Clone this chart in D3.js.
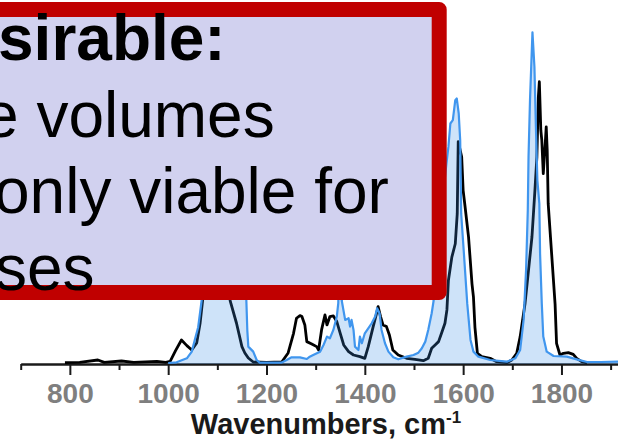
<!DOCTYPE html>
<html>
<head>
<meta charset="utf-8">
<script src="https://cdn.jsdelivr.net/npm/d3@7"></script>
<style>
  html, body { margin: 0; padding: 0; background: #fff; }
  svg { display: block; font-family: "Liberation Sans", Arial, sans-serif; }
</style>
</head>
<body>
<div id="chart"></div>
<script>
// black spectrum (wavenumber, intensity)
const blackWn = [790, 820, 857, 870, 905, 930, 977, 995, 1004, 1015, 1027, 1038, 1048, 1058, 1065, 1070,
  1080, 1090, 1100, 1110, 1120, 1126, 1139, 1150, 1156, 1163, 1173, 1200, 1231, 1244, 1255, 1261, 1268,
  1272, 1278, 1282, 1292, 1302, 1306, 1312, 1319, 1323, 1329, 1336, 1343, 1350, 1357, 1367, 1377, 1390,
  1400, 1407, 1417, 1424, 1427, 1432, 1437, 1444, 1450, 1457, 1468, 1485, 1502, 1519, 1529, 1536, 1543,
  1550, 1556, 1563, 1567, 1570, 1577, 1584, 1588, 1590, 1594, 1597, 1600, 1604, 1611, 1618, 1621, 1624,
  1629, 1638, 1655, 1668, 1689, 1699, 1709, 1716, 1726, 1733, 1740, 1746, 1750, 1753, 1755, 1758, 1760,
  1763, 1767, 1769, 1771, 1773, 1780, 1787, 1790, 1797, 1804, 1814, 1824, 1831, 1841, 1852];
const blackInt = [0.004, 0.005, 0.012, 0.005, 0.009, 0.005, 0.008, 0.005, 0.008, 0.04, 0.072, 0.055, 0.042,
  0.063, 0.123, 0.19, 0.5, 0.7, 0.75, 0.62, 0.35, 0.19, 0.122, 0.052, 0.033, 0.018, 0.006, 0.005, 0.006,
  0.033, 0.092, 0.137, 0.145, 0.142, 0.117, 0.067, 0.06, 0.052, 0.042, 0.102, 0.147, 0.117, 0.142, 0.144,
  0.127, 0.092, 0.057, 0.037, 0.027, 0.022, 0.017, 0.052, 0.112, 0.152, 0.172, 0.142, 0.117, 0.112, 0.087,
  0.042, 0.027, 0.017, 0.014, 0.01, 0.017, 0.047, 0.057, 0.067, 0.092, 0.122, 0.162, 0.25, 0.32, 0.36,
  0.45, 0.666, 0.64, 0.62, 0.52, 0.47, 0.38, 0.24, 0.2, 0.11, 0.032, 0.022, 0.017, 0.007, 0.004, 0.012,
  0.032, 0.082, 0.182, 0.281, 0.381, 0.52, 0.62, 0.8, 0.845, 0.7, 0.67, 0.57, 0.66, 0.71, 0.64, 0.48, 0.33,
  0.18, 0.062, 0.027, 0.032, 0.034, 0.029, 0.017, 0.007, 0.003];

// blue spectrum (filled)
const blueWn = [1000, 1017, 1038, 1048, 1055, 1061, 1068, 1080, 1095, 1110, 1130, 1150, 1159, 1161, 1163,
  1173, 1180, 1186, 1230, 1241, 1251, 1268, 1282, 1288, 1295, 1309, 1316, 1323, 1329, 1336, 1343, 1346,
  1348.5, 1351, 1353, 1360, 1367, 1370, 1373, 1377, 1380, 1387, 1390, 1394, 1400, 1407, 1414, 1421, 1425,
  1430, 1434, 1441, 1448, 1458, 1468, 1485, 1499, 1509, 1516, 1523, 1529, 1536, 1540, 1555, 1566, 1570,
  1574, 1579, 1584, 1587, 1591, 1594, 1596, 1601.6, 1608.4, 1615, 1621, 1631, 1655, 1689, 1706, 1716,
  1723, 1728, 1731.5, 1733, 1736, 1741, 1745, 1748, 1751, 1755, 1756.5, 1760, 1763, 1770, 1784, 1811,
  1831, 1852, 1880, 1915];
const blueInt = [0.003, 0.005, 0.017, 0.037, 0.077, 0.11, 0.19, 0.55, 0.85, 0.92, 0.82, 0.55, 0.19, 0.1,
  0.052, 0.037, 0.012, 0.004, 0.004, 0.012, 0.02, 0.02, 0.015, 0.022, 0.027, 0.037, 0.057, 0.082, 0.077,
  0.102, 0.142, 0.182, 0.4, 0.4, 0.19, 0.132, 0.137, 0.112, 0.132, 0.102, 0.052, 0.042, 0.082, 0.062,
  0.092, 0.107, 0.122, 0.142, 0.167, 0.152, 0.102, 0.062, 0.037, 0.02, 0.014, 0.022, 0.027, 0.034, 0.047,
  0.067, 0.102, 0.152, 0.19, 0.45, 0.6, 0.65, 0.72, 0.73, 0.79, 0.795, 0.75, 0.67, 0.45, 0.33, 0.18, 0.072,
  0.037, 0.022, 0.012, 0.007, 0.017, 0.042, 0.132, 0.281, 0.46, 0.62, 0.79, 0.993, 0.89, 0.71, 0.55, 0.48,
  0.33, 0.18, 0.082, 0.037, 0.024, 0.022, 0.014, 0.006, 0.006, 0.007];

const tickValues = [700, 800, 900, 1000, 1100, 1200, 1300, 1400, 1500, 1600, 1700, 1800, 1900];
const tickLabels = ["", "800", "", "1000", "", "1200", "", "1400", "", "1600", "", "1800", ""];

// text in the callout box (left part is cut off in the original)
const boxLines = ["sirable:", "e volumes", "only viable for", "ses"];

const width = 618, height = 442;
const svg = d3.select("#chart").append("svg")
  .attr("width", width)
  .attr("height", height);

const x = d3.scaleLinear().domain([700, 1915]).range([20.7, 618]);
const y = d3.scaleLinear().domain([0, 1]).range([364, 30]);

const black = blackWn.map((w, i) => ({ w, v: blackInt[i] }));
const blue = blueWn.map((w, i) => ({ w, v: blueInt[i] }));

// axis
const axis = d3.axisBottom(x)
  .tickValues(tickValues)
  .tickFormat((d, i) => tickLabels[i])
  .tickSizeOuter(0);

const gx = svg.append("g")
  .attr("transform", "translate(0,364)")
  .call(axis);

gx.select(".domain").attr("stroke", "#1a1a1a").attr("stroke-width", 2.5);
gx.selectAll(".tick line")
  .attr("stroke", "#1a1a1a")
  .attr("stroke-width", 2)
  .attr("y2", (d, i) => tickLabels[i] ? 11 : 6);
gx.selectAll(".tick text")
  .attr("y", 39)
  .attr("dy", 0)
  .attr("fill", "#7f7f7f")
  .style("font-size", "28px")
  .style("font-weight", "bold")
  .style("font-family", "'Liberation Sans', Arial, sans-serif");

const title = svg.append("text")
  .attr("x", 326)
  .attr("y", 434)
  .attr("text-anchor", "middle")
  .attr("fill", "#1a1a1a")
  .style("font-size", "29px")
  .style("font-weight", "bold")
  .text("Wavenumbers, cm");
title.append("tspan")
  .attr("dy", -11)
  .style("font-size", "17px")
  .text("-1");

// black spectrum under the translucent blue fill
const line = d3.line().x(d => x(d.w)).y(d => y(d.v));
const area = d3.area().x(d => x(d.w)).y0(y(0)).y1(d => y(d.v));

svg.append("path")
  .datum(black)
  .attr("d", line)
  .attr("fill", "none")
  .attr("stroke", "#000")
  .attr("stroke-width", 2.8)
  .attr("stroke-linejoin", "round");

svg.append("path")
  .datum(blue)
  .attr("d", area)
  .attr("fill", "#3d8fe8")
  .attr("fill-opacity", 0.25);

svg.append("path")
  .datum(blue)
  .attr("d", line)
  .attr("fill", "none")
  .attr("stroke", "#4096ee")
  .attr("stroke-width", 2.2)
  .attr("stroke-linejoin", "round");

// callout box
svg.append("rect")
  .attr("x", -40)
  .attr("y", 9.5)
  .attr("width", 479.2)
  .attr("height", 283)
  .attr("fill", "#d1d1ef")
  .attr("stroke", "#c00000")
  .attr("stroke-width", 15)
  .attr("stroke-linejoin", "round");

const lineX = [-2, -17, -6, -5];
const lineY = [60, 137, 213, 290];
svg.selectAll(".boxline")
  .data(boxLines)
  .enter()
  .append("text")
  .attr("class", "boxline")
  .attr("x", (d, i) => lineX[i])
  .attr("y", (d, i) => lineY[i])
  .attr("fill", "#000")
  .style("font-size", "64px")
  .style("font-weight", (d, i) => i === 0 ? "bold" : "normal")
  .text(d => d);
</script>
</body>
</html>
